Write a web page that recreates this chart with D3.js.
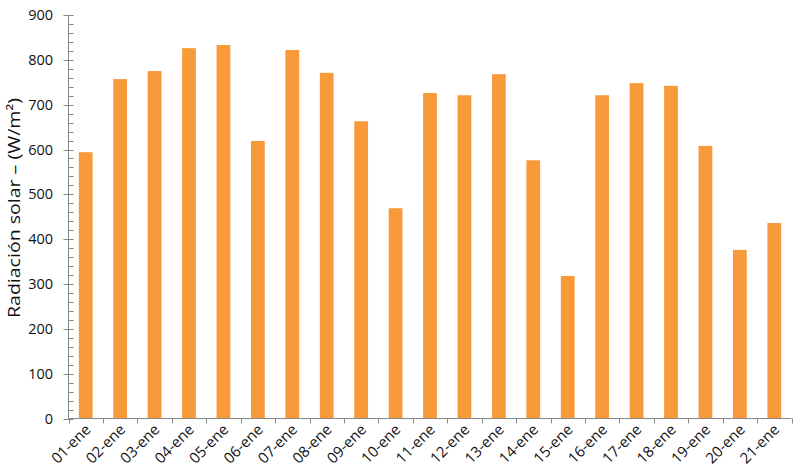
<!DOCTYPE html>
<html><head><meta charset="utf-8">
<script src="https://cdn.jsdelivr.net/npm/d3@7/dist/d3.min.js"></script>
<style>body{margin:0;background:#fff}svg{display:block}text{font-family:"Open Sans",sans-serif;fill:#111}</style>
</head><body><svg id="c" width="800" height="476"></svg>
<script>
const categories = ["01-ene","02-ene","03-ene","04-ene","05-ene","06-ene","07-ene","08-ene","09-ene","10-ene","11-ene","12-ene","13-ene","14-ene","15-ene","16-ene","17-ene","18-ene","19-ene","20-ene","21-ene"];
const radiacion = [594,757,775,826,833,619,822,771,663,469,726,721,768,576,318,721,748,742,608,376,436];
const yTicks = [0,100,200,300,400,500,600,700,800,900];
const yLabel = "Radiación solar – (W/m²)";

const svg = d3.select("#c");
const L = 68.5, R = 791.5, T = 15, B = 418.5;
const x = d3.scaleBand().domain(categories).range([L, R]).paddingInner(0.6).paddingOuter(0.3);
const xb = d3.scaleBand().domain(categories).range([L, R]);
const y = d3.scaleLinear().domain([0, 900]).range([B, T]);
const axisColor = "#868686";

// bars
svg.append("g").selectAll("rect").data(radiacion).join("rect")
  .attr("x", (d,i) => x(categories[i]))
  .attr("width", x.bandwidth())
  .attr("y", d => y(d))
  .attr("height", d => y(0) - y(d))
  .attr("fill", "#F89A3A");

// y axis
const ya = svg.append("g");
ya.append("line").attr("x1", L).attr("x2", L).attr("y1", y(900)).attr("y2", y(0)).attr("stroke", axisColor);
const minor = d3.range(0, 901, 20).filter(v => v % 100 !== 0);
ya.selectAll("line.mn").data(minor).join("line").attr("class","mn")
  .attr("x1", L).attr("x2", L + 5).attr("y1", d => Math.round(y(d)) + 0.5).attr("y2", d => Math.round(y(d)) + 0.5)
  .attr("stroke", axisColor);
ya.selectAll("line.mj").data(yTicks).join("line").attr("class","mj")
  .attr("x1", L - 5).attr("x2", L + 5).attr("y1", d => Math.round(y(d)) + 0.5).attr("y2", d => Math.round(y(d)) + 0.5)
  .attr("stroke", axisColor);
ya.selectAll("text").data(yTicks).join("text")
  .attr("x", 53).attr("y", d => y(d)).attr("dy", "0.35em")
  .attr("text-anchor", "end").attr("font-size", 14.5).text(d => d);

// x axis
const xa = svg.append("g");
xa.append("line").attr("x1", L).attr("x2", R).attr("y1", B).attr("y2", B).attr("stroke", axisColor);
const bounds = categories.map(c => xb(c)).concat([R]);
xa.selectAll("line.t").data(bounds).join("line").attr("class","t")
  .attr("x1", d => Math.round(d) + 0.5).attr("x2", d => Math.round(d) + 0.5).attr("y1", B).attr("y2", B + 5)
  .attr("stroke", axisColor);
xa.selectAll("text").data(categories).join("text")
  .attr("text-anchor", "end").attr("font-size", 15)
  .attr("transform", c => `translate(${xb(c) + xb.bandwidth()/2 + 6},${B + 12}) rotate(-45)`)
  .text(c => c);

// y label
svg.append("text").attr("transform", `translate(20,${208}) rotate(-90)`)
  .attr("text-anchor", "middle").attr("font-size", 17)
  .attr("textLength", 220).attr("lengthAdjust", "spacingAndGlyphs").text(yLabel);
</script></body></html>
